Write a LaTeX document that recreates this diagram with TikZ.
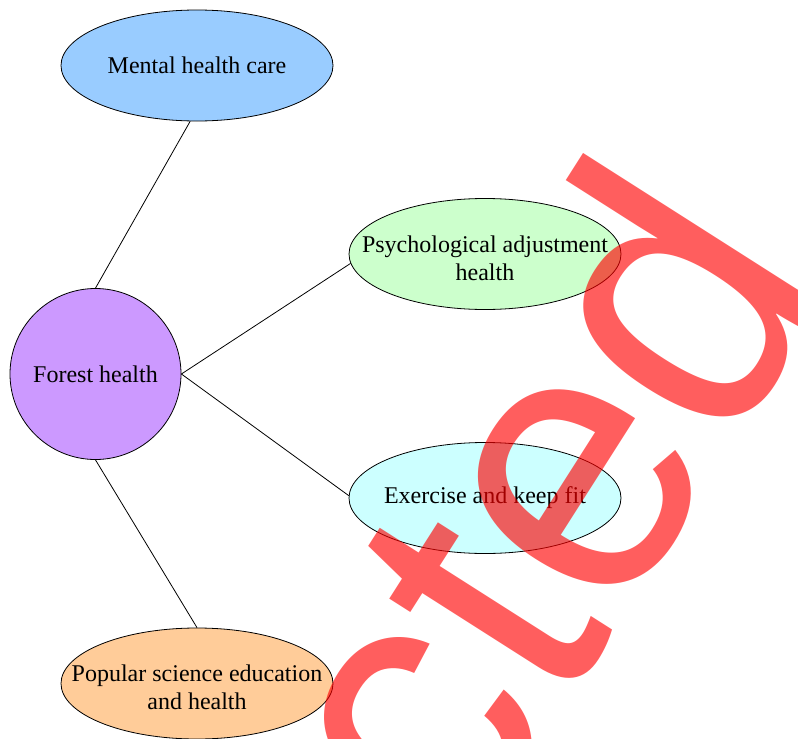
\documentclass[tikz,border=0pt]{standalone}
\usepackage{fontspec}
\setmainfont{Liberation Serif}
\newfontfamily\wmfont{Liberation Sans}
\usetikzlibrary{shapes.geometric}
\definecolor{cmental}{HTML}{99CCFF}
\definecolor{cforest}{HTML}{CC99FF}
\definecolor{cpsych}{HTML}{CCFFCC}
\definecolor{cexer}{HTML}{CCFFFF}
\definecolor{cpop}{HTML}{FFCC99}
\begin{document}
\begin{tikzpicture}[x=1pt,y=-1pt,
  ell/.style={ellipse, draw=black, line width=0.8pt, minimum width=272pt, minimum height=111pt, inner sep=0pt},
  circ/.style={circle, draw=black, line width=0.8pt, minimum size=171pt, inner sep=0pt},
  txt/.style={font=\fontsize{24}{27.6}\selectfont, align=center, inner sep=0pt},
  link/.style={draw=black, line width=0.8pt},
  wm/.style={font=\wmfont\fontsize{390}{390}\selectfont, text=red, text opacity=0.63, inner sep=0pt}]
\useasboundingbox (0,0) rectangle (798,739);
\clip (0,0) rectangle (798,739);
\fill[white] (0,0) rectangle (798,739);

\node[ell, fill=cmental] (mental) at (197,65.5) {};
\node[txt] (mental-t) at (mental.center) {Mental health care};
\node[circ, fill=cforest] (forest) at (95.5,374) {};
\node[txt] (forest-t) at (forest.center) {Forest health};
\node[ell, fill=cpsych] (psych) at (485,254) {};
\node[txt] (psych-t) at ([yshift=-4pt]psych.center) {Psychological adjustment\\health};
\node[ell, fill=cexer] (exer) at (485,498) {};
\node[txt] (exer-t) at (exer.center) {Exercise and keep fit};
\node[ell, fill=cpop] (pop) at (197,683.5) {};
\node[txt] (pop-t) at ([yshift=-4pt]pop.center) {Popular science education\\and health};

\draw[link] (forest.north) -- (mental.263);
\draw[link] (forest.east) -- (psych.184);
\draw[link] (forest.east) -- (exer.179);
\draw[link] (forest.south) -- (pop.north);

\node[wm, rotate=57.5, xscale=0.941, anchor=base west] (wm) at (462.2,869.5) {cted};
\end{tikzpicture}
\end{document}
